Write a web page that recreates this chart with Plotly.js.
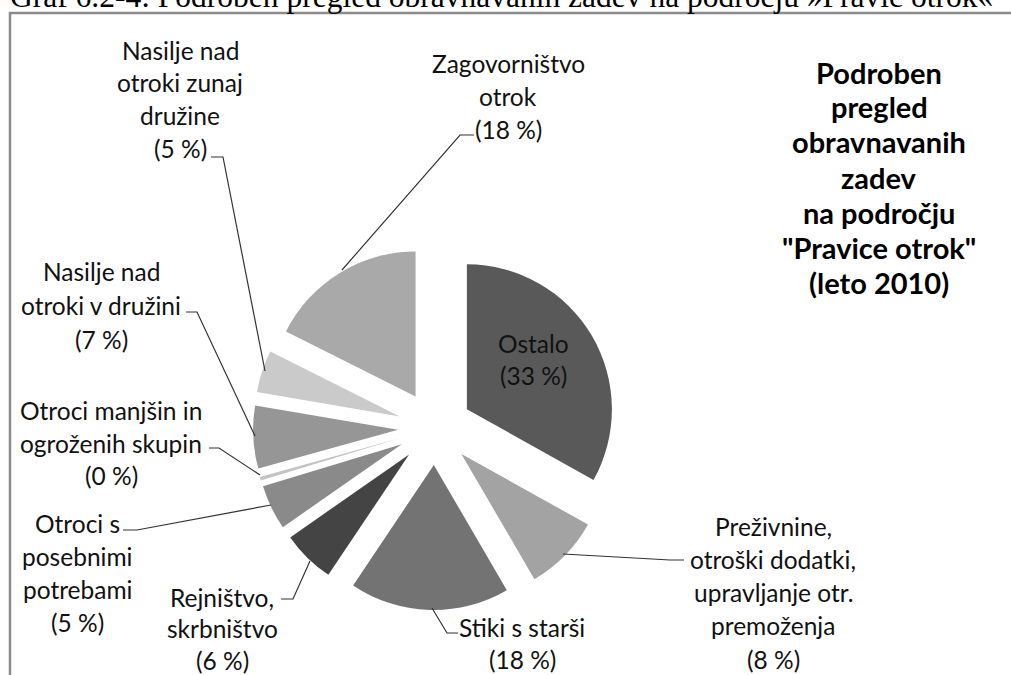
<!DOCTYPE html>
<html>
<head>
<meta charset="utf-8">
<script src="https://cdn.plot.ly/plotly-3.0.1.min.js"></script>
<style>html,body{margin:0;padding:0;background:#fff;}#chart{width:1011px;height:675px;}</style>
</head>
<body>
<div id="chart"></div>
<script>
// ---- data ----
const categories = [
  "Ostalo",
  "Preživnine, otroški dodatki, upravljanje otr. premoženja",
  "Stiki s starši",
  "Rejništvo, skrbništvo",
  "Otroci s posebnimi potrebami",
  "Otroci manjšin in ogroženih skupin",
  "Nasilje nad otroki v družini",
  "Nasilje nad otroki zunaj družine",
  "Zagovorništvo otrok"
];
const values = [33.1, 8.5, 17.8, 5.9, 5.0, 0.4, 7.0, 4.7, 17.6];
const pctLabels = ["(33 %)", "(8 %)", "(18 %)", "(6 %)", "(5 %)", "(0 %)", "(7 %)", "(5 %)", "(18 %)"];
const labelLines = [
  ["Ostalo"],
  ["Preživnine,", "otroški dodatki,", "upravljanje otr.", "premoženja"],
  ["Stiki s starši"],
  ["Rejništvo,", "skrbništvo"],
  ["Otroci s", "posebnimi", "potrebami"],
  ["Otroci manjšin in", "ogroženih skupin"],
  ["Nasilje nad", "otroki v družini"],
  ["Nasilje nad", "otroki zunaj", "družine"],
  ["Zagovorništvo", "otrok"]
];
const titleLines = ["Podroben", "pregled", "obravnavanih", "zadev", "na področju", "\"Pravice otrok\"", "(leto 2010)"];
const captionText = "Graf 6.2-4: Podroben pregled obravnavanih zadev na področju »Pravic otrok«";

// ---- styles / layout ----
const colors = ["#595959", "#a3a3a3", "#737373", "#444444", "#8a8a8a", "#c4c4c4", "#969696", "#cacaca", "#a9a9a9"];
const W = 1011, H = 675;
const px = x => x / W;
const py = y => 1 - y / H;
// label placement: [centerX, firstLineY, lineStep]
const labelPos = [
  [533, 343, 32], [773, 526, 33.3], [522, 627, 32], [222, 597, 31.5],
  [77, 523, 33.2], [111, 410, 33], [101, 271, 34], [180, 50, 33], [508, 63, 33]
];
// leader line polylines in pixel coordinates
const leaders = [
  null,
  [[684, 560], [670, 560], [563, 554]],
  [[458, 633], [447, 633], [432, 608]],
  [[281, 599], [293, 599], [310, 561]],
  [[123, 530], [137, 530], [271, 505]],
  [[209, 448], [219, 448], [260, 475]],
  [[186, 312], [197, 312], [255, 436]],
  [[211, 157], [223, 157], [265, 371]],
  [[474, 135], [460, 135], [342, 270]]
];

const labelFont = {family: "Lato, 'Open Sans', sans-serif", size: 24.5, color: "#111"};
const annotations = [];
categories.forEach((c, i) => {
  const lines = labelLines[i].concat([pctLabels[i]]);
  const [cx, y0, dy] = labelPos[i];
  lines.forEach((t, k) => {
    annotations.push({xref: "paper", yref: "paper", x: px(cx), y: py(y0 + k * dy),
      xanchor: "center", yanchor: "middle", text: t, showarrow: false, font: labelFont});
  });
});
titleLines.forEach((t, k) => {
  annotations.push({xref: "paper", yref: "paper", x: px(879), y: py(72 + k * 35),
    xanchor: "center", yanchor: "middle", text: "<b>" + t + "</b>", showarrow: false,
    font: {family: "Lato, 'Open Sans', sans-serif", size: 29, color: "#000"}});
});
annotations.push({xref: "paper", yref: "paper", x: px(8), y: py(-3), xanchor: "left", yanchor: "middle",
  text: captionText, showarrow: false, font: {family: "'Liberation Serif', 'Times New Roman', serif", size: 31.5, color: "#000"}});

const shapes = [{type: "rect", xref: "paper", yref: "paper", x0: px(10), y0: py(720), x1: px(1040), y1: py(13),
  line: {color: "#8c8c8c", width: 2.5}, fillcolor: "rgba(0,0,0,0)", layer: "below"}];
leaders.forEach(l => {
  if (!l) return;
  const d = l.map((p, k) => (k ? "L" : "M") + px(p[0]) + "," + py(p[1])).join(" ");
  shapes.push({type: "path", xref: "paper", yref: "paper", path: d, line: {color: "#333", width: 1.2}});
});

const pull = 0.255;
const R = 145;
const cx = 435, cy = 428;
const half = R * (1 + pull);

const trace = {
  type: "pie",
  labels: categories,
  values: values,
  sort: false,
  direction: "clockwise",
  rotation: 0,
  pull: pull,
  marker: {colors: colors, line: {width: 0}},
  textinfo: "none",
  hoverinfo: "label+percent",
  domain: {x: [px(cx - half), px(cx + half)], y: [py(cy + half), py(cy - half)]},
  showlegend: false
};

const layout = {
  width: W, height: H,
  margin: {l: 0, r: 0, t: 0, b: 0},
  paper_bgcolor: "#fff",
  showlegend: false,
  annotations: annotations,
  shapes: shapes
};
Plotly.newPlot("chart", [trace], layout, {displayModeBar: false, staticPlot: true});
</script>
</body>
</html>
